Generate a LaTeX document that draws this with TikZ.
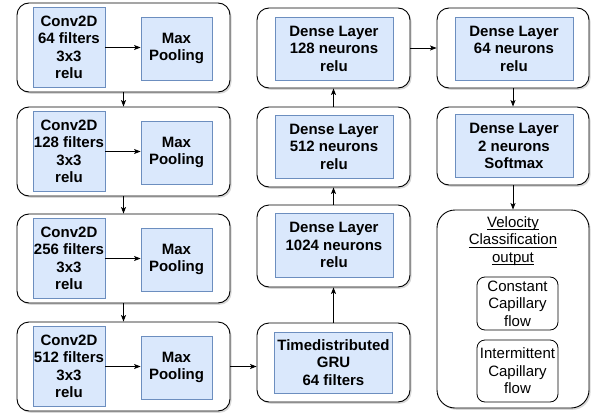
\documentclass[tikz,border=0pt]{standalone}
\usepackage{fontspec}
\setmainfont{Liberation Sans}
\usetikzlibrary{arrows.meta,shadows}
\definecolor{layerfill}{HTML}{DAE8FC}
\definecolor{layeredge}{HTML}{6C8EBF}
% underline drawn just below the baseline, through descenders
\newcommand{\ul}[1]{\setbox0=\hbox{#1}\rlap{\rule[-2.4pt]{\wd0}{0.75pt}}\box0}
\begin{document}
\begin{tikzpicture}[x=1pt,y=-1pt,
  block/.style={draw=black, line width=0.9pt, fill=white, rounded corners=12pt,
    drop shadow={shadow xshift=1.6pt, shadow yshift=-1.8pt, opacity=0.3},
    inner sep=0, minimum width=#1},
  block/.default=153pt,
  layer/.style={draw=layeredge, line width=0.8pt, fill=layerfill, inner sep=0,
    align=center, font=\fontsize{15}{17.5}\selectfont\bfseries},
  conv/.style={layer, minimum width=72pt, minimum height=80pt},
  pool/.style={layer, minimum width=71pt, minimum height=63pt},
  dense/.style={layer, minimum width=118pt, minimum height=63pt},
  choice/.style={draw=black, line width=0.8pt, fill=white, rounded corners=8pt,
    inner sep=0, minimum width=81pt, align=center,
    font=\fontsize{15}{17.5}\selectfont},
  arr/.style={line width=0.8pt, -{Stealth[length=6.5pt,width=5pt,inset=1.5pt]}}
]
\fill[white] (0,0) rectangle (592,415);
\useasboundingbox (0,0) rectangle (592,415);

% convolution stages
\foreach \n/\cy/\f in {1/47.5/64, 2/151.5/128, 3/258.5/256, 4/366.5/512}{
  \node[block=213pt, minimum height=89pt] (b\n) at (123.5,\cy) {};
  \node[conv] (c\n) at (69,\cy) {Conv2D\\\f{} filters\\3x3\\relu};
  \node[pool] (m\n) at (176.5,\cy+1) {Max\\Pooling};
  \draw[arr] (c\n.east) -- (c\n.east -| m\n.west);
}
\draw[arr] (b1.south) -- (b2.north);
\draw[arr] (b2.south) -- (b3.north);
\draw[arr] (b3.south) -- (b4.north);

% recurrent and dense stages
\node[block, minimum height=79pt] (bg) at (333.5,362.5) {};
\node[dense, minimum height=61pt] (g) at (333.5,362.5) {Timedistributed\\GRU\\64 filters};
\node[block, minimum height=82pt] (bd1024) at (333.5,246) {};
\node[dense, minimum height=64pt] (d1024) at (334,245) {Dense Layer\\1024 neurons\\relu};
\node[block, minimum height=80pt] (bd512) at (333.5,147) {};
\node[dense] (d512) at (334,146.5) {Dense Layer\\512 neurons\\relu};
\node[block, minimum height=80pt] (bd128) at (333.5,48) {};
\node[dense] (d128) at (334,48.5) {Dense Layer\\128 neurons\\relu};
\node[block=152pt, minimum height=80pt] (bd64) at (513,48) {};
\node[dense] (d64) at (514,48.5) {Dense Layer\\64 neurons\\relu};
\node[block=152pt, minimum height=78pt] (bd2) at (513,146) {};
\node[dense] (d2) at (514,146) {Dense Layer\\2 neurons\\Softmax};

\draw[arr] (b4.east) -- (b4.east -| bg.west);
\draw[arr] (bg.north) -- (bd1024.south);
\draw[arr] (bd1024.north) -- (bd512.south);
\draw[arr] (bd512.north) -- (bd128.south);
\draw[arr] (bd128.east) -- (bd128.east -| bd64.west);
\draw[arr] (bd64.south) -- (bd2.north);

% output classes
\node[block=152pt, minimum height=198pt, rounded corners=18pt] (vel) at (513,309) {};
\node[align=center, inner sep=0, font=\fontsize{15}{17.5}\selectfont] (veltitle) at (513,241)
  {\ul{Velocity}\\\ul{Classification}\\\ul{output}};
\node[choice, minimum height=53pt] (const) at (517.5,303.5) {Constant\\Capillary\\flow};
\node[choice, minimum height=62pt] (inter) at (517.5,371) {Intermittent\\Capillary\\flow};
\draw[arr] (bd2.south) -- (vel.north);
\end{tikzpicture}
\end{document}
